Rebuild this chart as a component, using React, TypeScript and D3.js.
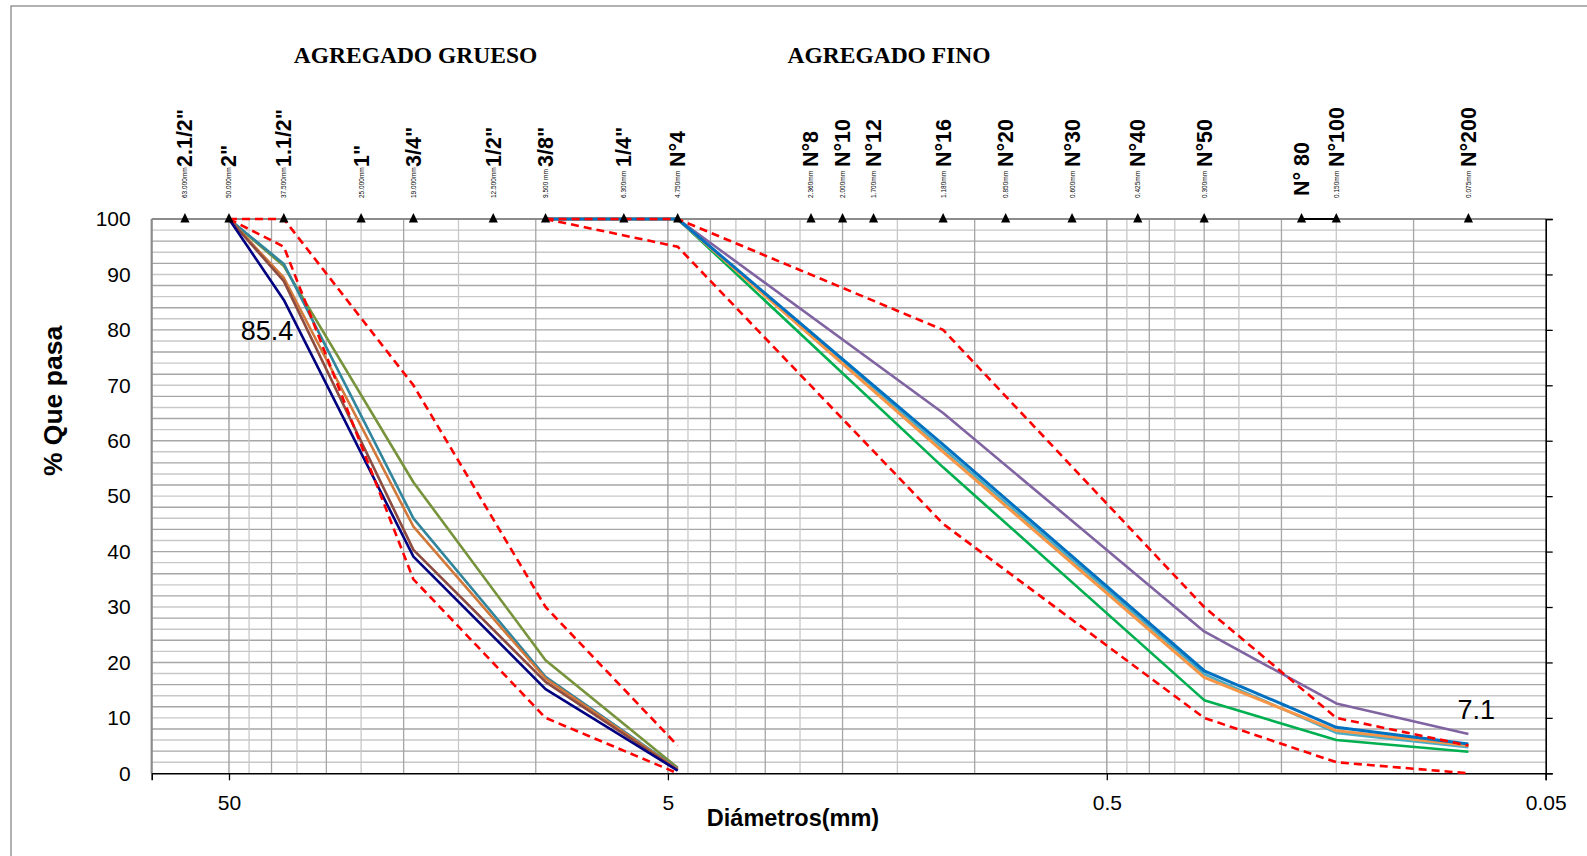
import React, { useEffect, useRef } from 'react';
import * as d3 from 'd3';

// sieve ticks along the top
const sieveLabels = ['2.1/2"', '2"', '1.1/2"', '1"', '3/4"', '1/2"', '3/8"', '1/4"', 'N°4', 'N°8', 'N°10', 'N°12', 'N°16', 'N°20', 'N°30', 'N°40', 'N°50', 'N° 80', 'N°100', 'N°200'];
const sieveSizes = [63, 50, 37.5, 25, 19, 12.5, 9.5, 6.3, 4.75, 2.36, 2.0, 1.7, 1.18, 0.85, 0.6, 0.425, 0.3, 0.18, 0.15, 0.075];
const sieveMm = ['63.000mm', '50.000mm', '37.500mm', '25.000mm', '19.000mm', '12.500mm', '9.500 mm', '6.300mm', '4.750mm', '2.360mm', '2.000mm', '1.700mm', '1.180mm', '0.850mm', '0.600mm', '0.425mm', '0.300mm', '', '0.150mm', '0.075mm'];

// agregado grueso
const coarseSieves = [50, 37.5, 19, 9.5, 4.75];
const coarseUpper = [100, 100, 70, 30, 5];
const coarseLower = [100, 95, 35, 10, 0];
const coarseNavy = [100, 85.4, 39.1, 15.2, 0.5];
const coarseBrown = [100, 88.8, 40.3, 16.5, 0.6];
const coarseOrange = [100, 89.4, 44.5, 17.1, 0.7];
const coarseTeal = [100, 91.9, 46.0, 17.4, 0.8];
const coarseOlive = [100, 91.5, 52.5, 20.4, 1.0];

// agregado fino
const fineSieves = [9.5, 4.75, 1.18, 0.3, 0.15, 0.075];
const fineUpper = [100, 100, 80, 30, 10, 5];
const fineLower = [100, 95, 45, 10, 2, 0];
const fineGreen = [100, 100, 55.2, 13.2, 6.0, 3.9];
const fineLightBlue = [100, 100, 58.6, 17.9, 7.3, 4.7];
const fineOrange = [100, 100, 58.0, 17.3, 7.7, 5.0];
const fineBlue = [100, 100, 59.3, 18.5, 8.3, 5.3];
const finePurple = [100, 100, 65.0, 25.6, 12.6, 7.1];

const xTicks = [50, 5, 0.5, 0.05];
const yTicks = [0, 10, 20, 30, 40, 50, 60, 70, 80, 90, 100];

const W = 1587;
const H = 856;
const sans = '"Liberation Sans", Arial, sans-serif';
const serif = '"Liberation Serif", "Times New Roman", serif';

export default function App() {
  const ref = useRef<SVGSVGElement>(null);

  useEffect(() => {
    const svg = d3.select(ref.current);
    svg.selectAll('*').remove();

    const left = 151.7, right = 1545.7, top = 219, bottom = 773.3;
    const x = d3.scaleLog().domain([75, 0.05]).range([left, right]);
    const y = d3.scaleLinear().domain([0, 100]).range([bottom, top]);

    // outer frame
    svg.append('rect')
      .attr('x', 11).attr('y', 6)
      .attr('width', W + 20).attr('height', H + 20)
      .attr('fill', 'none').attr('stroke', '#7f7f7f').attr('stroke-width', 1.2);

    // horizontal grid
    const g = svg.append('g');
    d3.range(2, 100, 2).forEach((v, i) => {
      g.append('line')
        .attr('x1', left).attr('x2', right)
        .attr('y1', y(v)).attr('y2', y(v))
        .attr('stroke', i % 2 ? '#a6a6a6' : '#c8c8c8')
        .attr('stroke-width', 1.4);
    });

    // vertical log grid
    [0.05, 0.5, 5].forEach(base => {
      d3.range(2, 10).forEach((k, i) => {
        const v = base * k;
        g.append('line')
          .attr('x1', x(v)).attr('x2', x(v))
          .attr('y1', top).attr('y2', bottom)
          .attr('stroke', i % 2 ? '#c8c8c8' : '#a6a6a6')
          .attr('stroke-width', 1.3);
      });
    });
    [50, 5, 0.5].forEach(v => {
      g.append('line')
        .attr('x1', x(v)).attr('x2', x(v))
        .attr('y1', top).attr('y2', bottom)
        .attr('stroke', '#a0a0a0').attr('stroke-width', 1.4);
    });

    // plot borders
    svg.append('line').attr('x1', left).attr('x2', right).attr('y1', top).attr('y2', top)
      .attr('stroke', '#8c8c8c').attr('stroke-width', 2.2);
    svg.append('line').attr('x1', left).attr('x2', left).attr('y1', top).attr('y2', bottom)
      .attr('stroke', '#8c8c8c').attr('stroke-width', 2.2);

    // axes
    const xAxis = svg.append('g')
      .attr('transform', `translate(0,${bottom})`)
      .call(d3.axisBottom(x).tickValues(xTicks).tickFormat(d => String(d)).tickSize(7).tickPadding(15));
    xAxis.select('.domain').attr('stroke', '#000').attr('stroke-width', 1.6);
    xAxis.selectAll('.tick line').attr('stroke', '#000').attr('stroke-width', 1.3);
    xAxis.selectAll('text').style('font-family', sans).style('font-size', '21px').attr('fill', '#000');

    const yAxis = svg.append('g')
      .attr('transform', `translate(${left},0)`)
      .call(d3.axisLeft(y).tickValues(yTicks).tickSize(0).tickPadding(21));
    yAxis.select('.domain').remove();
    yAxis.selectAll('text').style('font-family', sans).style('font-size', '21px').attr('fill', '#000');

    const rAxis = svg.append('g')
      .attr('transform', `translate(${right},0)`)
      .call(d3.axisRight(y).tickValues(yTicks).tickSize(7).tickFormat(() => ''));
    rAxis.select('.domain').attr('stroke', '#000').attr('stroke-width', 1.6);
    rAxis.selectAll('.tick line').attr('stroke', '#000').attr('stroke-width', 1.3);

    const line = (sieves: number[]) => d3.line<number>()
      .x((d, i) => x(sieves[i]))
      .y(d => y(d));

    const drawSeries = (sieves: number[], vals: number[], color: string, width = 2.6) => {
      svg.append('path')
        .attr('d', line(sieves)(vals))
        .attr('fill', 'none')
        .attr('stroke', color)
        .attr('stroke-width', width)
        .attr('stroke-linejoin', 'round');
    };
    const drawLimit = (sieves: number[], vals: number[]) => {
      svg.append('path')
        .attr('d', line(sieves)(vals))
        .attr('fill', 'none')
        .attr('stroke', '#ff0000')
        .attr('stroke-width', 2.6)
        .attr('stroke-dasharray', '8,5');
    };

    // coarse
    drawSeries(coarseSieves, coarseOlive, '#77933c');
    drawSeries(coarseSieves, coarseTeal, '#31859c');
    drawSeries(coarseSieves, coarseOrange, '#d2783a');
    drawSeries(coarseSieves, coarseBrown, '#8e4b3f');
    drawSeries(coarseSieves, coarseNavy, '#000080');
    drawLimit(coarseSieves, coarseUpper);
    drawLimit(coarseSieves, coarseLower);

    // fine
    drawSeries(fineSieves, finePurple, '#8064a2');
    drawSeries(fineSieves, fineGreen, '#00b050');
    drawSeries(fineSieves, fineLightBlue, '#4bacc6');
    drawSeries(fineSieves, fineOrange, '#f79646', 3);
    drawSeries(fineSieves, fineBlue, '#0070c0', 3);
    drawLimit(fineSieves, fineUpper);
    drawLimit(fineSieves, fineLower);

    // sieve markers at 100 %
    const i80 = sieveLabels.indexOf('N° 80');
    const i100 = sieveLabels.indexOf('N°100');
    svg.append('line')
      .attr('x1', x(sieveSizes[i80])).attr('x2', x(sieveSizes[i100]))
      .attr('y1', y(100)).attr('y2', y(100))
      .attr('stroke', '#000').attr('stroke-width', 2);

    svg.append('g').selectAll('path')
      .data(sieveSizes)
      .enter()
      .append('path')
      .attr('d', 'M0,-6L4.6,3.4L-4.6,3.4Z')
      .attr('transform', d => `translate(${x(d)},${y(100)})`)
      .attr('fill', '#000');

    // sieve labels
    const lab = svg.append('g');
    sieveSizes.forEach((s, i) => {
      const sx = x(s);
      const by = sieveLabels[i] === 'N° 80' ? 196 : 167;
      lab.append('text')
        .attr('transform', `translate(${sx + 7.5},${by}) rotate(-90)`)
        .attr('text-anchor', 'start')
        .style('font-family', sans)
        .style('font-weight', 'bold')
        .style('font-size', '21.5px')
        .text(sieveLabels[i]);
      if (sieveMm[i]) {
        lab.append('text')
          .attr('transform', `translate(${sx + 2.5},198) rotate(-90)`)
          .attr('text-anchor', 'start')
          .style('font-family', sans)
          .style('font-size', '6.5px')
          .text(sieveMm[i]);
      }
    });

    // data labels
    svg.append('text')
      .attr('x', x(coarseSieves[1]) + 9.5)
      .attr('y', y(coarseNavy[1]) + 40)
      .attr('text-anchor', 'end')
      .style('font-family', sans).style('font-size', '27px')
      .text(String(coarseNavy[1]));
    svg.append('text')
      .attr('x', x(fineSieves[5]) - 11)
      .attr('y', y(finePurple[5]) - 15)
      .style('font-family', sans).style('font-size', '27px')
      .text(String(finePurple[5]));

    // headers and titles
    svg.append('text')
      .attr('x', 415.5).attr('y', 63)
      .attr('text-anchor', 'middle')
      .style('font-family', serif).style('font-weight', 'bold').style('font-size', '23.5px')
      .text('AGREGADO GRUESO');
    svg.append('text')
      .attr('x', 889).attr('y', 63)
      .attr('text-anchor', 'middle')
      .style('font-family', serif).style('font-weight', 'bold').style('font-size', '23.5px')
      .text('AGREGADO FINO');

    svg.append('text')
      .attr('x', 793).attr('y', 826)
      .attr('text-anchor', 'middle')
      .style('font-family', sans).style('font-weight', 'bold').style('font-size', '23.5px')
      .text('Diámetros(mm)');

    svg.append('text')
      .attr('transform', `translate(62,401) rotate(-90)`)
      .attr('text-anchor', 'middle')
      .style('font-family', sans).style('font-weight', 'bold').style('font-size', '26.5px')
      .text('% Que pasa');
  }, []);

  return (
    <svg
      ref={ref}
      width={W}
      height={H}
      style={{ position: 'absolute', left: 0, top: 0, background: '#fff' }}
    />
  );
}
